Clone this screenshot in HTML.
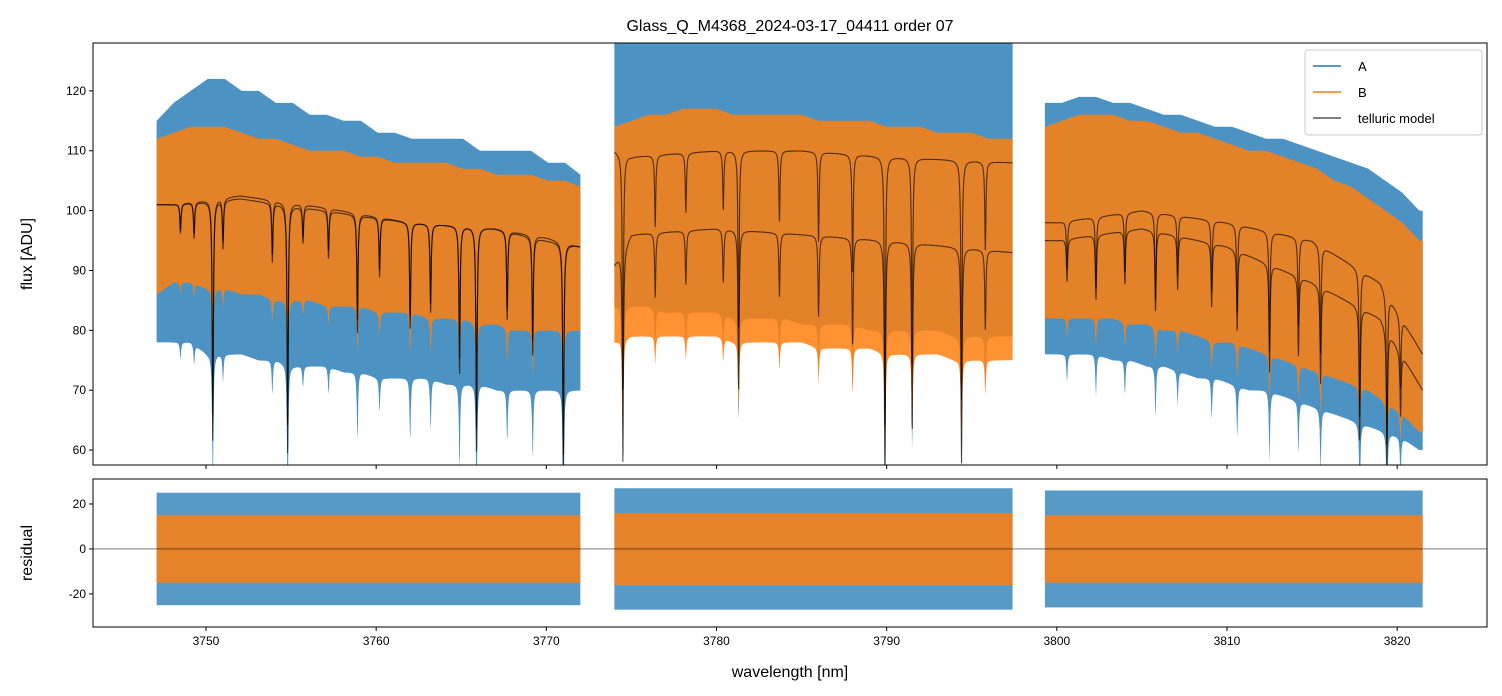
<!DOCTYPE html>
<html><head><meta charset="utf-8"><style>
html,body{margin:0;padding:0;background:#fff;}
svg{display:block;font-family:"Liberation Sans","DejaVu Sans",sans-serif;}
</style></head><body>
<svg id="chart" width="1502" height="696" viewBox="0 0 1502 696" xmlns="http://www.w3.org/2000/svg"></svg>
<script>
// ---- data ----
const segStarts = [3747, 3774, 3799];
const segEnds = [3772, 3797.4, 3821.5];
const seg1BlueHi = [115,118,120,122,122,120,120,118,118,116,116,115,115,113,113,112,112,112,112,110,110,110,110,108,108,106];
const seg1BlueLo = [78,78,78,76,76,76,75,75,74,74,74,73,73,72,72,72,72,71,71,71,70,70,70,70,70,70];
const seg1OrHi = [112,113,114,114,114,113,112,112,111,110,110,110,109,109,108,108,108,108,107,107,106,106,106,105,105,104];
const seg1OrLo = [86,88,88,87,87,86,86,85,85,85,84,84,84,83,83,83,82,82,82,81,81,80,80,80,80,80];
const seg2BlueHi = [128,128,128,128,128,128,128,128,128,128,128,128,128,128,128,128,128,128,128,128,128,128,128,128];
const seg2BlueLo = [84,84,84,83,83,83,83,82,82,82,82,81,81,81,81,80,80,80,80,80,79,79,79,79];
const seg2OrHi = [114,115,116,116,117,117,117,116,116,116,116,116,115,115,115,115,114,114,114,113,113,113,112,112];
const seg2OrLo = [78,79,79,79,79,79,79,78,78,78,78,78,77,77,77,77,76,76,76,76,75,75,75,75];
const seg3BlueHi = [118,118,119,119,118,118,117,116,116,115,114,114,113,112,112,111,110,109,108,107,105,103,100];
const seg3BlueLo = [76,76,76,76,75,75,74,74,73,72,72,71,70,70,69,68,67,66,65,64,63,62,60];
const seg3OrHi = [114,115,116,116,116,115,115,114,113,113,112,111,110,110,109,108,107,105,104,102,100,98,95];
const seg3OrLo = [82,82,82,82,82,81,81,80,80,79,78,78,77,76,75,74,73,72,71,70,68,66,63];
const modelKnotsW = [3747,3748,3752,3757,3762,3767,3770,3772, 3774,3775,3780,3785,3790,3797.4, 3799.3,3800,3805,3810,3815,3819,3821.5];
const modelA = [100,101,102,100,98,97,95,94, 110,109,110,110,109,108, 98,98,100,98,95,88,76];
const modelB = [100,101,102.5,100.5,98,97,95.5,94, 91,96,97,96,95,93, 95,95,97,94,88,82,70];
const dipW = [3748.5,3749.3,3750.4,3751,3753.9,3754.8,3755.7,3757.2,3758.9,3760.2,3762.0,3763.2,3764.9,3765.9,3767.7,3769.2,3771.0,
 3774.5,3776.4,3778.2,3780.4,3781.3,3783.7,3786.0,3788.0,3789.9,3791.5,3794.4,3795.8,
 3800.6,3802.3,3804.0,3805.8,3807.1,3809.1,3810.6,3812.5,3814.2,3815.5,3817.8,3819.4,3820.2];
const dipD = [5,6,40,8,10,42,6,8,20,10,18,15,25,38,15,20,40, 40,12,10,10,30,12,15,20,45,35,40,15, 8,12,10,15,10,12,15,20,15,18,25,25,12];
const resBlueHi = [25,27,26], resBlueLo = [-25,-27,-26];
const resOrHi = [15,16,15], resOrLo = [-15,-16,-15];
const xTicks = [3750,3760,3770,3780,3790,3800,3810,3820];
const yTicks = [60,70,80,90,100,110,120];
const rTicks = [-20,0,20];

// ---- axes ----
const L=93,R=1487,T1=43,B1=465,T2=479,B2=627;
const X=w=>L+(w-3743.36)*(R-L)/(3825.28-3743.36);
const Y=v=>T1+(128-v)*(B1-T1)/(128-57.5);
const RY=v=>T2+(31.1-v)*(B2-T2)/(31.1+34.7);
const svg=document.getElementById('chart');
const NS='http://www.w3.org/2000/svg';
function mk(tag,attrs,parent){const e=document.createElementNS(NS,tag);for(const k in attrs)e.setAttribute(k,attrs[k]);(parent||svg).appendChild(e);return e;}
function interp(xs,ys,x){if(x<=xs[0])return ys[0];for(let i=1;i<xs.length;i++){if(x<=xs[i]){const t=(x-xs[i-1])/(xs[i]-xs[i-1]);return ys[i-1]+t*(ys[i]-ys[i-1]);}}return ys[ys.length-1];}
function dip(w,wd){let s=0;for(let i=0;i<dipW.length;i++){const d=(w-dipW[i])/wd;s+=dipD[i]/(1+d*d);}return s;}
function segModel(arr,a,b){const xs=[],ys=[];for(let i=0;i<modelKnotsW.length;i++){if(modelKnotsW[i]>=a-0.01&&modelKnotsW[i]<=b+0.01){xs.push(modelKnotsW[i]);ys.push(arr[i]);}}return w=>interp(xs,ys,w);}

mk('defs',{}).innerHTML='<clipPath id="c1"><rect x="'+L+'" y="'+T1+'" width="'+(R-L)+'" height="'+(B1-T1)+'"/></clipPath><clipPath id="c2"><rect x="'+L+'" y="'+T2+'" width="'+(R-L)+'" height="'+(B2-T2)+'"/></clipPath>';
const g1=mk('g',{'clip-path':'url(#c1)'});


const g2=mk('g',{'clip-path':'url(#c2)'});



const segData=[[seg1BlueHi,seg1BlueLo,seg1OrHi,seg1OrLo],[seg2BlueHi,seg2BlueLo,seg2OrHi,seg2OrLo],[seg3BlueHi,seg3BlueLo,seg3OrHi,seg3OrLo]];
function band(a,b,hi,lo,color,op,name,dipScale,parent){
  const knots=hi.map((_,i)=>Math.min(a+i,b));
  const up=[],dn=[];
  for(let w=a;w<=b+1e-6;w+=0.03){
    const h=interp(knots,hi,w),l=interp(knots,lo,w)-dip(w,0.04)*dipScale;
    up.push(X(w).toFixed(1)+','+Y(h).toFixed(1));dn.push(X(w).toFixed(1)+','+Y(l).toFixed(1));
  }
  const p=mk('polygon',{points:up.concat(dn.reverse()).join(' '),fill:color,'fill-opacity':op},parent);
  
  
}
for(let s=0;s<3;s++){
  const a=s==0?3747.1:segStarts[s]+ (s==2?0.3:0), b=segEnds[s];
  const d=segData[s];
  band(a,b,d[0],d[1],'#1f77b4',0.8,'series-a-band',0.6,g1);
  band(a,b,d[2],d[3],'#ff7f0e',0.85,'series-b-band',0.4,g1);
  [modelA,modelB].forEach((arr,k)=>{
    const f=segModel(arr,a,b);const pts=[];
    for(let w=a;w<=b+1e-6;w+=0.015){pts.push(X(w).toFixed(1)+','+Y(f(w)-dip(w,0.04)*(k==0?1:0.9)).toFixed(1));}
    const pl=mk('polyline',{points:pts.join(' '),fill:'none',stroke:'#000','stroke-opacity':0.65,'stroke-width':1.1},g1);
    
    
  });
  const rb=mk('rect',{x:X(a),y:RY(resBlueHi[s]),width:X(b)-X(a),height:RY(resBlueLo[s])-RY(resBlueHi[s]),fill:'#1f77b4','fill-opacity':0.75},g2);
  
  
  const ro=mk('rect',{x:X(a),y:RY(resOrHi[s]),width:X(b)-X(a),height:RY(resOrLo[s])-RY(resOrHi[s]),fill:'#ff7f0e','fill-opacity':0.85},g2);
  
  
}
const zl=mk('line',{x1:L,x2:R,y1:RY(0),y2:RY(0),stroke:'#000','stroke-opacity':0.6,'stroke-width':0.8});



[[T1,B1],[T2,B2]].forEach(([t,b],i)=>{
  const r=mk('rect',{x:L,y:t,width:R-L,height:b-t,fill:'none',stroke:'#000','stroke-width':1});
  
  
  xTicks.forEach(v=>{mk('line',{x1:X(v),x2:X(v),y1:b,y2:b+4,stroke:'#000'});});
});
xTicks.forEach(v=>{const t=mk('text',{x:X(v),y:645,'font-size':12,'text-anchor':'middle'});t.textContent=v;

});
yTicks.forEach(v=>{mk('line',{x1:L-4,x2:L,y1:Y(v),y2:Y(v),stroke:'#000'});const t=mk('text',{x:L-7,y:Y(v)+4,'font-size':12,'text-anchor':'end'});t.textContent=v;

});
rTicks.forEach(v=>{mk('line',{x1:L-4,x2:L,y1:RY(v),y2:RY(v),stroke:'#000'});const t=mk('text',{x:L-7,y:RY(v)+4,'font-size':12,'text-anchor':'end'});t.textContent=v;

});
</script>
<svg style="position:absolute;left:0;top:0" width="1502" height="696">
<text x="790" y="31" font-size="16" text-anchor="middle" font-family="Liberation Sans, sans-serif">Glass_Q_M4368_2024-03-17_04411  order 07</text>
<text x="790" y="677" font-size="16" text-anchor="middle" font-family="Liberation Sans, sans-serif">wavelength [nm]</text>
<text transform="translate(32,254) rotate(-90)" font-size="16" text-anchor="middle" font-family="Liberation Sans, sans-serif">flux [ADU]</text>
<text transform="translate(32,553) rotate(-90)" font-size="16" text-anchor="middle" font-family="Liberation Sans, sans-serif">residual</text>
<g font-family="Liberation Sans, sans-serif" font-size="13">
<rect x="1305" y="50" width="177" height="85" rx="3" fill="#fff" fill-opacity="0.85" stroke="#ccc"/>
<line x1="1313" x2="1341" y1="66" y2="66" stroke="#1f77b4" stroke-width="1.5"/><text x="1358" y="71">A</text>
<line x1="1313" x2="1341" y1="92" y2="92" stroke="#ff7f0e" stroke-width="1.5"/><text x="1358" y="97">B</text>
<line x1="1313" x2="1341" y1="118" y2="118" stroke="#555" stroke-width="1.5"/><text x="1358" y="123">telluric model</text>
</g>
</svg>
</body></html>
